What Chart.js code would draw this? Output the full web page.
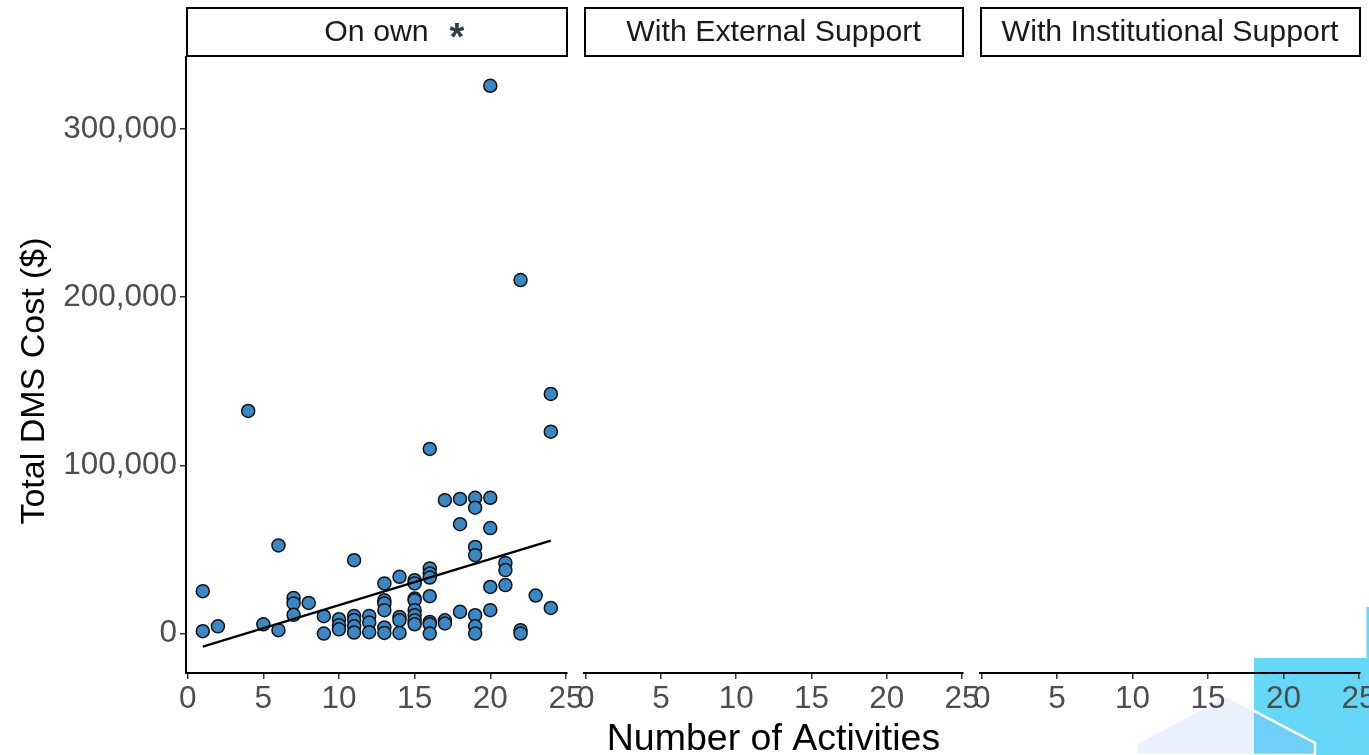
<!DOCTYPE html>
<html><head><meta charset="utf-8">
<script src="https://cdn.jsdelivr.net/npm/chart.js@4.4.1/dist/chart.umd.min.js"></script>
<style>
html,body{margin:0;padding:0;background:#fff;width:1369px;height:755px;overflow:hidden;}
#wrap{position:relative;width:1369px;height:755px;}
canvas{position:absolute;left:0;top:0;}
svg{position:absolute;left:0;top:0;}
</style></head><body>
<div id="wrap">
<svg width="1369" height="755">
  <rect x="1254" y="658" width="115" height="97" fill="#64d8f6"/>
  <rect x="1366.5" y="607" width="2.5" height="51" fill="#64d8f6"/>
  <polygon points="1137,755 1137,743 1226,696 1315,743 1315,755" fill="rgba(150,180,250,0.2)" stroke="#ffffff" stroke-width="2.5"/>
</svg>
<canvas id="c1" width="1369" height="755"></canvas>
<canvas id="c2" width="1369" height="755"></canvas>
<canvas id="c3" width="1369" height="755"></canvas>
</div>
<script>
// ---- data ----
const panelLabels = ['On own', 'With External Support', 'With Institutional Support'];
const xTicks = [0, 5, 10, 15, 20, 25];
const yTicks = [0, 100000, 200000, 300000];
const onOwnX = [1,1, 2, 4, 5, 6,6, 7,7,7, 8, 9,9, 10,10,10, 11,11,11,11,11, 12,12,12,
  13,13,13,13,13,13, 14,14,14,14, 15,15,15,15,15,15,15,15, 16,16,16,16,16,16,16,16,
  17,17,17, 18,18,18, 19,19,19,19,19,19,19, 20,20,20,20,20, 21,21,21, 22,22,22, 23, 24,24,24];
const onOwnY = [25200,1400, 4300, 132300, 5500, 52400,2000, 21200,17900,11100, 18200, 10300,0,
  8500,5000,2500, 43600,10500,8000,4300,600, 10500,6500,800,
  29800,19800,17900,13900,3600,400, 33700,9900,7900,400,
  31700,29800,20800,19800,13900,10900,7900,5500,
  109700,38700,35700,33300,22200,6900,5500,0,
  79300,7900,6000, 80000,65000,12900,
  80700,74800,51500,46600,10900,4300,0,
  325600,80700,62700,27700,13900,
  42000,37700,28800, 210100,2000,0, 22600, 142400,120000,15200];
const fitX = [1, 24];
const fitY = [-7800, 55200];
const X_MIN = -0.11, X_MAX = 25.07;
const Y_MIN = -23450, Y_MAX = 342700;
const yTitle = 'Total DMS Cost ($)';
const xTitle = 'Number of Activities';

const FONT = '"Liberation Sans", Arial, Helvetica, sans-serif';

const stripPlugin = {
  id: 'strip',
  afterDraw(chart, args, opts) {
    const {ctx, chartArea: {left, right, top, bottom}} = chart;
    ctx.save();
    ctx.lineWidth = 2;
    ctx.strokeStyle = '#000';
    ctx.strokeRect(left + 1, 8, right - left - 1, 48);
    ctx.font = '30.3px ' + FONT;
    ctx.fillStyle = '#1a1a1a';
    ctx.textAlign = 'center';
    ctx.textBaseline = 'middle';
    ctx.fillText(opts.label, (left + right) / 2, 33);
    if (opts.star) {
      ctx.font = 'bold 38px ' + FONT;
      ctx.fillStyle = '#2c3e50';
      ctx.textBaseline = 'alphabetic';
      ctx.fillText('*', 457, 50);
      // y axis title
      ctx.font = '34px ' + FONT;
      ctx.fillStyle = '#000';
      ctx.textBaseline = 'middle';
      ctx.translate(35, (top + bottom) / 2 + 16);
      ctx.rotate(-Math.PI / 2);
      ctx.fillText(yTitle, 0, 0);
    }
    ctx.restore();
  }
};

function makeChart(id, idx, padL, padR) {
  const datasets = [];
  if (idx === 0) {
    datasets.push({
      type: 'line', order: 0,
      data: fitX.map((x, i) => ({x, y: fitY[i]})),
      borderColor: '#000', borderWidth: 2.3, pointRadius: 0, fill: false
    });
    datasets.push({
      type: 'scatter', order: 1,
      data: onOwnX.map((x, i) => ({x, y: onOwnY[i]})),
      backgroundColor: '#3a87c5', borderColor: '#111', borderWidth: 1.5,
      pointRadius: 6.5, pointHoverRadius: 6.5
    });
  }
  return new Chart(document.getElementById(id), {
    type: 'scatter',
    data: {datasets},
    plugins: [stripPlugin],
    options: {
      responsive: false, animation: false,
      layout: {padding: {top: 57, left: padL, right: padR, bottom: 0}},
      plugins: {legend: {display: false}, tooltip: {enabled: false},
        strip: {label: panelLabels[idx], star: idx === 0}},
      scales: {
        x: {
          type: 'linear', min: X_MIN, max: X_MAX,
          afterBuildTicks: s => { s.ticks = xTicks.map(v => ({value: v})); },
          afterFit: s => { s.height = 82; s.paddingLeft = 0; s.paddingRight = 0; },
          ticks: {color: '#4d4d4d', font: {size: 31.5, family: FONT}, padding: 1,
            maxRotation: 0, autoSkip: false, callback: v => String(v)},
          grid: {display: true, drawOnChartArea: false, drawTicks: true, tickLength: 6,
            color: '#333', lineWidth: 1.5},
          border: {display: true, color: '#000', width: 2},
          title: {display: idx === 1, text: xTitle, color: '#000',
            font: {size: 37.5, family: FONT, lineHeight: 0.8}, padding: {top: 0, bottom: 0}}
        },
        y: {
          type: 'linear', min: Y_MIN, max: Y_MAX, display: idx === 0,
          afterBuildTicks: s => { s.ticks = yTicks.map(v => ({value: v})); },
          afterFit: s => { s.width = idx === 0 ? 186 : 0; s.paddingTop = 0; s.paddingBottom = 0; },
          ticks: {color: '#4d4d4d', font: {size: 31.5, family: FONT}, padding: 3,
            callback: v => v.toLocaleString('en-US')},
          grid: {display: true, drawOnChartArea: false, drawTicks: true, tickLength: 6,
            color: '#333', lineWidth: 1.5},
          border: {display: true, color: '#000', width: 2},
          title: {display: false}
        }
      }
    }
  });
}

makeChart('c1', 0, 0, 1369 - 567);
makeChart('c2', 1, 584, 1369 - 963);
makeChart('c3', 2, 980, 1369 - 1360);
</script>
</body></html>
